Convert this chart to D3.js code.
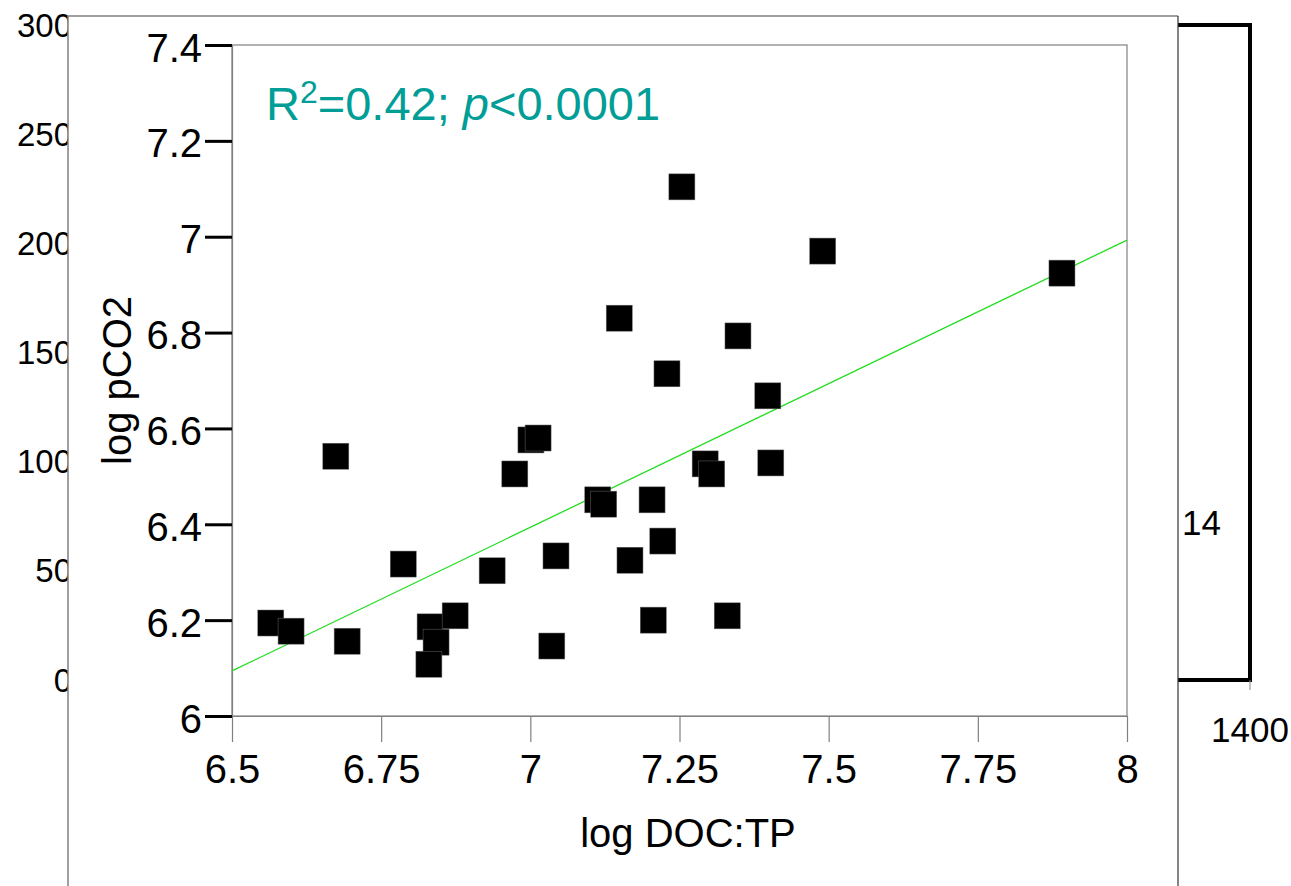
<!DOCTYPE html>
<html>
<head>
<meta charset="utf-8">
<script src="https://cdn.jsdelivr.net/npm/d3@7"></script>
<style>
  body { margin: 0; background: #fff; }
  svg { display: block; font-family: "Liberation Sans", Arial, sans-serif; }
</style>
</head>
<body>
<div class="container_graph"></div>
<script>
// values
const docTP = [6.565, 6.599, 6.693, 6.674, 6.787, 6.832, 6.842, 6.830, 6.874, 6.936,
  6.974, 7.001, 7.013, 7.043, 7.036, 7.113, 7.123, 7.149, 7.167, 7.204,
  7.206, 7.222, 7.229, 7.254, 7.293, 7.304, 7.330, 7.348, 7.398, 7.403,
  7.490, 7.891];
const pCO2 = [6.194, 6.177, 6.156, 6.542, 6.317, 6.186, 6.154, 6.108, 6.209, 6.303,
  6.505, 6.576, 6.580, 6.334, 6.146, 6.451, 6.442, 6.830, 6.325, 6.451,
  6.200, 6.365, 6.714, 7.104, 6.526, 6.505, 6.209, 6.793, 6.668, 6.528,
  6.970, 6.924];
const fitX = [6.5, 8];
const fitY = [6.094, 6.993];
const xTicks = [6.5, 6.75, 7, 7.25, 7.5, 7.75, 8];
const yTicks = [6, 6.2, 6.4, 6.6, 6.8, 7, 7.2, 7.4];
// the chart that sits behind this one
const bgYTicks = [0, 50, 100, 150, 200, 250, 300];
const bgXTicks = [1400];
const bgLabel = { text: "14", value: 72 };

const W = 1291, H = 886;
const panel = { left: 68, top: 16, right: 1178 };

const svg = d3.select(".container_graph")
  .append("svg")
  .attr("width", W)
  .attr("height", H);

// back chart
const bgY = d3.scaleLinear().domain([0, 300]).range([680, 25]);
const bgX = d3.scaleLinear().domain([0, 1400]).range([-4000, 1250]);

svg.append("g")
  .selectAll("text")
  .data(bgYTicks)
  .enter()
  .append("text")
  .attr("x", 72)
  .attr("y", (d) => bgY(d))
  .attr("dy", "0.35em")
  .attr("text-anchor", "end")
  .attr("font-size", 33)
  .text((d) => d);

svg.append("path")
  .attr("d", `M${panel.right},${bgY(300)}H${bgX(1400)}V${bgY(0)}H${panel.right}`)
  .attr("fill", "none")
  .attr("stroke", "#000")
  .attr("stroke-width", 4);

const bgXAxis = svg.append("g");
bgXAxis.selectAll("line")
  .data(bgXTicks)
  .enter()
  .append("line")
  .attr("x1", (d) => bgX(d))
  .attr("x2", (d) => bgX(d))
  .attr("y1", bgY(0))
  .attr("y2", bgY(0) + 10)
  .attr("stroke", "#888");
bgXAxis.selectAll("text")
  .data(bgXTicks)
  .enter()
  .append("text")
  .attr("x", (d) => bgX(d))
  .attr("y", 742)
  .attr("text-anchor", "middle")
  .attr("font-size", 35)
  .text((d) => d);

svg.append("text")
  .attr("x", panel.right + 4)
  .attr("y", bgY(bgLabel.value))
  .attr("dy", "0.35em")
  .attr("font-size", 35)
  .text(bgLabel.text);

// white panel on top of it
svg.append("rect")
  .attr("x", panel.left)
  .attr("y", panel.top)
  .attr("width", panel.right - panel.left)
  .attr("height", H)
  .attr("fill", "#fff");
svg.append("path")
  .attr("d", `M${panel.left},${H}V${panel.top}H${panel.right}`)
  .attr("fill", "none")
  .attr("stroke", "#808080")
  .attr("stroke-width", 1.5);
svg.append("line")
  .attr("x1", panel.right).attr("x2", panel.right)
  .attr("y1", panel.top).attr("y2", H)
  .attr("stroke", "#333")
  .attr("stroke-width", 1.2);

// scatter
const x = d3.scaleLinear().domain([6.5, 8]).range([232, 1127]);
const y = d3.scaleLinear().domain([6, 7.4]).range([716, 45]);

// frame
svg.append("rect")
  .attr("x", x(6.5))
  .attr("y", y(7.4))
  .attr("width", x(8) - x(6.5))
  .attr("height", y(6) - y(7.4))
  .attr("fill", "none")
  .attr("stroke", "#808080")
  .attr("stroke-width", 1.2);

const fmt = (d) => String(+d.toFixed(2));

const gx = svg.append("g")
  .attr("transform", `translate(0, ${y(6)})`)
  .call(d3.axisBottom(x).tickValues(xTicks).tickFormat(fmt).tickSize(26).tickSizeOuter(0).tickPadding(13));
gx.select(".domain").attr("stroke", "#808080").attr("stroke-width", 1.2);
gx.selectAll(".tick line").attr("stroke", "#808080").attr("stroke-width", 1.2);
gx.selectAll("text").attr("font-size", 40).attr("font-family", "Liberation Sans, Arial, sans-serif").attr("fill", "#000");

const gy = svg.append("g")
  .attr("transform", `translate(${x(6.5)}, 0)`)
  .call(d3.axisLeft(y).tickValues(yTicks).tickFormat(fmt).tickSize(27).tickSizeOuter(0).tickPadding(3));
gy.select(".domain").attr("stroke", "#808080").attr("stroke-width", 1.2);
gy.selectAll(".tick line").attr("stroke", "#000").attr("stroke-width", 3);
gy.selectAll("text").attr("font-size", 40).attr("dy", "0.4em").attr("font-family", "Liberation Sans, Arial, sans-serif").attr("fill", "#000");

// fit line
svg.append("line")
  .attr("x1", x(fitX[0]))
  .attr("y1", y(fitY[0]))
  .attr("x2", x(fitX[1]))
  .attr("y2", y(fitY[1]))
  .attr("stroke", "#22dd22")
  .attr("stroke-width", 1.3);

// points
const size = 26;
svg.append("g")
  .selectAll("rect")
  .data(docTP.map((d, i) => ({ x: d, y: pCO2[i] })))
  .enter()
  .append("rect")
  .attr("x", (d) => x(d.x) - size / 2)
  .attr("y", (d) => y(d.y) - size / 2)
  .attr("width", size)
  .attr("height", size)
  .attr("fill", "#000")
  .attr("stroke", "#666")
  .attr("stroke-width", 0.5);

// labels
svg.append("text")
  .attr("x", 688)
  .attr("y", 847)
  .attr("text-anchor", "middle")
  .attr("font-size", 40)
  .text("log DOC:TP");

svg.append("text")
  .attr("transform", `translate(131, ${(y(6) + y(7.4)) / 2}) rotate(-90)`)
  .attr("text-anchor", "middle")
  .attr("font-size", 40)
  .text("log pCO2");

const stat = svg.append("text")
  .attr("x", 266)
  .attr("y", 120)
  .attr("font-size", 47)
  .attr("fill", "#009e96");
stat.append("tspan").text("R");
stat.append("tspan").attr("font-size", 32).attr("dy", -17).text("2");
stat.append("tspan").attr("dy", 17).text("=0.42; ");
stat.append("tspan").attr("font-style", "italic").text("p");
stat.append("tspan").text("<0.0001");
</script>
</body>
</html>
